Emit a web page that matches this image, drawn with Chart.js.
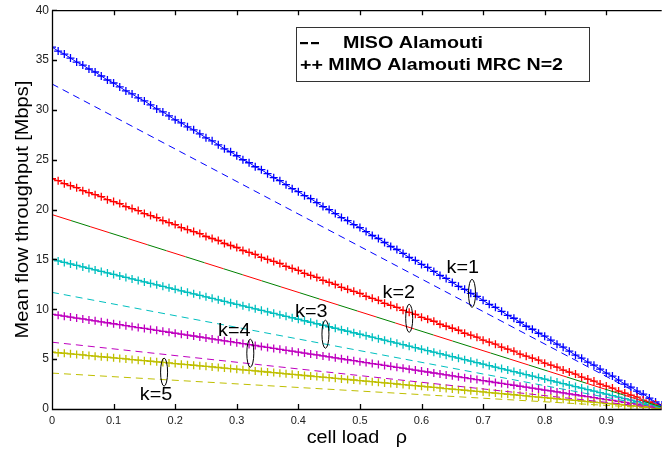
<!DOCTYPE html>
<html>
<head>
<meta charset="utf-8">
<script src="https://cdn.jsdelivr.net/npm/chart.js@4.4.1/dist/chart.umd.min.js"></script>
<style>
  html, body { margin: 0; padding: 0; background: #fff; }
  #chart { display: block; }
</style>
</head>
<body>
<canvas id="chart" width="667" height="451"></canvas>
<script>
// cell load values (x) for the MIMO curves, one marker per step
const rho = [0,0.01,0.02,0.03,0.04,0.05,0.06,0.07,0.08,0.09,
  0.1,0.11,0.12,0.13,0.14,0.15,0.16,0.17,0.18,0.19,
  0.2,0.21,0.22,0.23,0.24,0.25,0.26,0.27,0.28,0.29,
  0.3,0.31,0.32,0.33,0.34,0.35,0.36,0.37,0.38,0.39,
  0.4,0.41,0.42,0.43,0.44,0.45,0.46,0.47,0.48,0.49,
  0.5,0.51,0.52,0.53,0.54,0.55,0.56,0.57,0.58,0.59,
  0.6,0.61,0.62,0.63,0.64,0.65,0.66,0.67,0.68,0.69,
  0.7,0.71,0.72,0.73,0.74,0.75,0.76,0.77,0.78,0.79,
  0.8,0.81,0.82,0.83,0.84,0.85,0.86,0.87,0.88,0.89,
  0.9,0.91,0.92,0.93,0.94,0.95,0.96,0.97,0.98,0.99]

// MIMO Alamouti MRC N=2, k = 1..5
const mimoK1 = [36.3,35.9,35.6,35.2,34.8,34.5,34.1,33.8,33.4,33.0,
  32.7,32.3,31.9,31.6,31.2,30.9,30.5,30.1,29.8,29.4,
  29.0,28.7,28.3,28.0,27.6,27.2,26.9,26.5,26.1,25.8,
  25.4,25.0,24.7,24.3,24.0,23.6,23.2,22.9,22.5,22.1,
  21.8,21.4,21.1,20.7,20.3,20.0,19.6,19.2,18.9,18.5,
  18.2,17.8,17.4,17.1,16.7,16.3,16.0,15.6,15.2,14.9,
  14.5,14.2,13.8,13.4,13.1,12.7,12.3,12.0,11.6,11.3,
  10.9,10.5,10.2,9.8,9.4,9.1,8.7,8.3,8.0,7.6,
  7.3,6.9,6.5,6.2,5.8,5.4,5.1,4.7,4.4,4.0,
  3.6,3.3,2.9,2.5,2.2,1.8,1.5,1.1,0.7,0.4]
const mimoK2 = [23.1,22.9,22.6,22.4,22.2,21.9,21.7,21.5,21.3,21.0,
  20.8,20.6,20.3,20.1,19.9,19.6,19.4,19.2,18.9,18.7,
  18.5,18.2,18.0,17.8,17.6,17.3,17.1,16.9,16.6,16.4,
  16.2,15.9,15.7,15.5,15.2,15.0,14.8,14.6,14.3,14.1,
  13.9,13.6,13.4,13.2,12.9,12.7,12.5,12.2,12.0,11.8,
  11.6,11.3,11.1,10.9,10.6,10.4,10.2,9.9,9.7,9.5,
  9.2,9.0,8.8,8.5,8.3,8.1,7.9,7.6,7.4,7.2,
  6.9,6.7,6.5,6.2,6.0,5.8,5.5,5.3,5.1,4.9,
  4.6,4.4,4.2,3.9,3.7,3.5,3.2,3.0,2.8,2.5,
  2.3,2.1,1.8,1.6,1.4,1.2,0.9,0.7,0.5,0.2]
const mimoK3 = [15.0,14.85,14.7,14.55,14.4,14.25,14.1,13.95,13.8,13.65,
  13.5,13.35,13.2,13.05,12.9,12.75,12.6,12.45,12.3,12.15,
  12.0,11.85,11.7,11.55,11.4,11.25,11.1,10.95,10.8,10.65,
  10.5,10.35,10.2,10.05,9.9,9.75,9.6,9.45,9.3,9.15,
  9.0,8.85,8.7,8.55,8.4,8.25,8.1,7.95,7.8,7.65,
  7.5,7.35,7.2,7.05,6.9,6.75,6.6,6.45,6.3,6.15,
  6.0,5.85,5.7,5.55,5.4,5.25,5.1,4.95,4.8,4.65,
  4.5,4.35,4.2,4.05,3.9,3.75,3.6,3.45,3.3,3.15,
  3.0,2.85,2.7,2.55,2.4,2.25,2.1,1.95,1.8,1.65,
  1.5,1.35,1.2,1.05,0.9,0.75,0.6,0.45,0.3,0.15]
const mimoK4 = [9.5,9.41,9.31,9.22,9.12,9.03,8.93,8.84,8.74,8.65,
  8.55,8.46,8.36,8.27,8.17,8.08,7.98,7.89,7.79,7.70,
  7.6,7.51,7.41,7.32,7.22,7.13,7.03,6.94,6.84,6.75,
  6.65,6.56,6.46,6.37,6.27,6.18,6.08,5.99,5.89,5.8,
  5.7,5.61,5.51,5.42,5.32,5.23,5.13,5.04,4.94,4.85,
  4.75,4.66,4.56,4.47,4.37,4.28,4.18,4.09,3.99,3.9,
  3.8,3.71,3.61,3.52,3.42,3.33,3.23,3.14,3.04,2.95,
  2.85,2.76,2.66,2.57,2.47,2.38,2.28,2.19,2.09,2.0,
  1.9,1.81,1.71,1.62,1.52,1.43,1.33,1.24,1.14,1.05,
  0.95,0.86,0.76,0.67,0.57,0.48,0.38,0.29,0.19,0.1]
const mimoK5 = [5.7,5.64,5.59,5.53,5.47,5.42,5.36,5.30,5.24,5.19,
  5.13,5.07,5.02,4.96,4.90,4.85,4.79,4.73,4.67,4.62,
  4.56,4.50,4.45,4.39,4.33,4.28,4.22,4.16,4.10,4.05,
  3.99,3.93,3.88,3.82,3.76,3.71,3.65,3.59,3.53,3.48,
  3.42,3.36,3.31,3.25,3.19,3.14,3.08,3.02,2.96,2.91,
  2.85,2.79,2.74,2.68,2.62,2.57,2.51,2.45,2.39,2.34,
  2.28,2.22,2.17,2.11,2.05,2.0,1.94,1.88,1.82,1.77,
  1.71,1.65,1.6,1.54,1.48,1.43,1.37,1.31,1.25,1.2,
  1.14,1.08,1.03,0.97,0.91,0.86,0.8,0.74,0.68,0.63,
  0.57,0.51,0.46,0.4,0.34,0.29,0.23,0.17,0.11,0.06]

// MISO Alamouti (straight dashed lines)
const misoRho = [0, 0.5, 0.99]
const misoK1 = [32.6, 16.3, 0.33]
const misoK2 = [19.5, 9.75, 0.2]
const misoK3 = [11.7, 5.85, 0.12]
const misoK4 = [6.7, 3.35, 0.07]
const misoK5 = [3.6, 1.8, 0.04]

const xTicks = [0,0.1,0.2,0.3,0.4,0.5,0.6,0.7,0.8,0.9]
const yTicks = [0,5,10,15,20,25,30,35,40]

const FONT = '"Liberation Sans", Arial, Helvetica, sans-serif'

// k=... labels with their little ellipses, in data units
const kNotes = [
  {text: 'k=1', lx: 0.667, ly: 14.1, ex: 0.682, ey: 11.6},
  {text: 'k=2', lx: 0.563, ly: 11.6, ex: 0.580, ey: 9.1},
  {text: 'k=3', lx: 0.421, ly: 9.7, ex: 0.444, ey: 7.5},
  {text: 'k=4', lx: 0.296, ly: 7.8, ex: 0.322, ey: 5.6},
  {text: 'k=5', lx: 0.169, ly: 1.4, ex: 0.182, ey: 3.7}
]

function pts(xs, ys) { return xs.map((x, i) => ({x: x, y: ys[i]})) }

function dashed(ys, color, dash, offset) {
  return {data: pts(misoRho, ys), borderColor: color, borderWidth: 1,
    borderDash: dash || [7, 5], borderDashOffset: offset || 0,
    pointRadius: 0, fill: false}
}
function crossed(ys, color) {
  return {data: pts(rho, ys), borderColor: color, borderWidth: 1,
    pointStyle: 'cross', pointRadius: 4, pointBorderWidth: 1.3,
    pointBorderColor: color, pointBackgroundColor: color, fill: false}
}

const BLUE = '#0000ff', RED = '#ff0000', GREEN = '#008000'
const CYAN = '#00bfbf', MAGENTA = '#bf00bf', YELLOW = '#bfbf00'

// text drawn a little wider than Liberation Sans, like the original
function wideText(ctx, str, x, y, sx) {
  ctx.save()
  ctx.translate(x, y)
  ctx.scale(sx, 1)
  ctx.fillText(str, 0, 0)
  ctx.restore()
}
function fitText(ctx, str, x, y, w) {
  wideText(ctx, str, x, y, w / ctx.measureText(str).width)
}

// MATLAB style box with inward ticks, legend box, notes and axis titles
const decor = {
  id: 'decor',
  afterDraw(chart) {
    const ctx = chart.ctx
    const a = chart.chartArea
    const xs = chart.scales.x, ys = chart.scales.y
    ctx.save()
    ctx.strokeStyle = '#000'
    ctx.lineWidth = 1.3
    ctx.beginPath()
    ctx.moveTo(a.left + 0.5, a.top + 0.5)
    ctx.lineTo(a.right, a.top + 0.5)
    ctx.moveTo(a.left + 0.5, a.top)
    ctx.lineTo(a.left + 0.5, a.bottom + 0.5)
    ctx.lineTo(a.right, a.bottom + 0.5)
    xTicks.forEach(v => {
      const px = Math.round(xs.getPixelForValue(v)) + 0.5
      ctx.moveTo(px, a.bottom); ctx.lineTo(px, a.bottom - 5)
      ctx.moveTo(px, a.top); ctx.lineTo(px, a.top + 5)
    })
    yTicks.forEach(v => {
      const py = Math.round(ys.getPixelForValue(v)) + 0.5
      ctx.moveTo(a.left, py); ctx.lineTo(a.left + 5, py)
    })
    ctx.stroke()

    // legend box
    ctx.lineWidth = 1
    ctx.strokeStyle = '#333'
    ctx.fillStyle = '#fff'
    ctx.fillRect(296.5, 27.5, 293, 54)
    ctx.strokeRect(296.5, 27.5, 293, 54)
    ctx.fillStyle = '#000'
    ctx.font = 'bold 16px ' + FONT
    ctx.textAlign = 'left'
    ctx.textBaseline = 'alphabetic'
    ctx.fillRect(300, 42, 8, 2.2)
    ctx.fillRect(311, 42, 8, 2.2)
    fitText(ctx, 'MISO Alamouti', 343, 48, 140)
    fitText(ctx, '++ MIMO Alamouti MRC N=2', 300, 70, 263)

    // k notes
    ctx.font = '18px ' + FONT
    ctx.textAlign = 'center'
    ctx.textBaseline = 'middle'
    ctx.lineWidth = 1
    ctx.strokeStyle = '#000'
    kNotes.forEach(n => {
      wideText(ctx, n.text, xs.getPixelForValue(n.lx), ys.getPixelForValue(n.ly), 1.1)
      ctx.beginPath()
      ctx.ellipse(xs.getPixelForValue(n.ex), ys.getPixelForValue(n.ey), 3.5, 14, 0, 0, Math.PI * 2)
      ctx.stroke()
    })

    // axis titles
    ctx.font = '18px ' + FONT
    ctx.textBaseline = 'alphabetic'
    ctx.textAlign = 'center'
    wideText(ctx, 'cell load   \u03c1', (a.left + a.right) / 2, 443, 1.1)
    ctx.translate(28, (a.top + a.bottom) / 2)
    ctx.rotate(-Math.PI / 2)
    wideText(ctx, 'Mean flow throughput [Mbps]', 0, 0, 1.11)
    ctx.restore()
  }
}

new Chart(document.getElementById('chart'), {
  type: 'line',
  data: {
    datasets: [
      dashed(misoK1, BLUE),
      dashed(misoK2, GREEN, [20, 20], 20),
      dashed(misoK2, RED, [20, 20]),
      dashed(misoK3, CYAN),
      dashed(misoK4, MAGENTA),
      dashed(misoK5, YELLOW),
      crossed(mimoK5, YELLOW),
      crossed(mimoK4, MAGENTA),
      crossed(mimoK3, CYAN),
      crossed(mimoK2, RED),
      crossed(mimoK1, BLUE)
    ]
  },
  options: {
    responsive: false,
    animation: false,
    devicePixelRatio: 1,
    layout: {padding: {top: 8, right: 0, left: 0, bottom: 0}},
    plugins: {legend: {display: false}, tooltip: {enabled: false}},
    scales: {
      x: {
        type: 'linear', min: 0, max: 0.99,
        afterBuildTicks: s => { s.ticks = xTicks.map(v => ({value: v})) },
        afterFit: s => { s.height = 42 },
        grid: {display: false, drawTicks: false},
        border: {display: false},
        ticks: {padding: 5, color: '#222', font: {family: FONT, size: 11},
          callback: v => String(v), maxRotation: 0}
      },
      y: {
        type: 'linear', min: 0, max: 40,
        afterBuildTicks: s => { s.ticks = yTicks.map(v => ({value: v})) },
        afterFit: s => { s.width = 52 },
        grid: {display: false, drawTicks: false},
        border: {display: false},
        ticks: {padding: 3, color: '#222', font: {family: FONT, size: 12}}
      }
    }
  },
  plugins: [decor]
})
</script>
</body>
</html>
